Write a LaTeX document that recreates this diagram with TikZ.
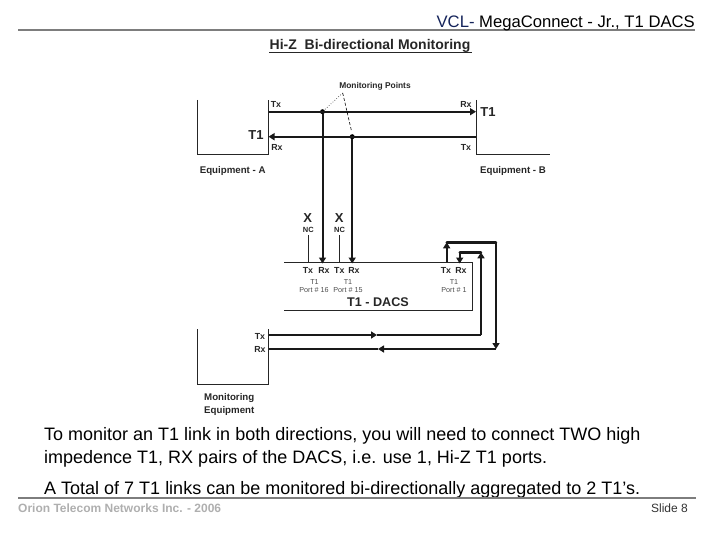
\documentclass[tikz,border=0pt]{standalone}
\usepackage{fontspec}
\setmainfont{Liberation Sans}
\usetikzlibrary{arrows.meta}
\definecolor{hdrblue}{RGB}{20,35,90}
\definecolor{foot}{RGB}{175,175,175}
\definecolor{rule}{RGB}{125,125,125}
\tikzset{
  x=1pt,y=-1pt,
  wire/.style={line width=2pt,black!90},
  wireh/.style={line width=2.4pt,black!90},
  tip/.style={-{Triangle[length=6pt,width=7pt]}},
  thin box/.style={line width=1pt,black!85},
  lab/.style={inner sep=0pt,font=\fontsize{8.8}{10}\selectfont\bfseries,text=black!85},
  labl/.style={inner sep=0pt,font=\fontsize{9.7}{11}\selectfont\bfseries,text=black!85},
  tiny lab/.style={inner sep=0pt,font=\fontsize{7.2}{8}\selectfont,text=black!70},
  big lab/.style={inner sep=0pt,font=\fontsize{13}{15}\selectfont\bfseries,text=black!85},
  body/.style={inner sep=0pt,anchor=base west,font=\fontsize{18}{20}\selectfont},
  dot/.style={circle,fill=black,inner sep=0pt,minimum size=5pt},
}
\begin{document}
\begin{tikzpicture}
\useasboundingbox (0,0) rectangle (720,540);
% header
\draw[rule,line width=2pt] (18,30) coordinate (hl) -- (695,30) coordinate (hr);
\node[inner sep=0pt,anchor=base east,font=\fontsize{16.65}{18}\selectfont] (hdr) at (695,28) {\textcolor{hdrblue}{VCL-} MegaConnect - Jr., T1 DACS};
\node[inner sep=0pt,font=\fontsize{14}{16}\selectfont\bfseries,text=black!85] (ttl) at (370,46) {Hi-Z\ \ Bi-directional Monitoring};
\coordinate (ttlL) at (269,52.5); \coordinate (ttlR) at (472,52.5);
\draw[line width=1pt,black!85] (ttlL) -- (ttlR);
% Equipment A
\coordinate (at) at (197.5,100); \coordinate (ab) at (197.5,155);
\coordinate (ac) at (268.5,155); \coordinate (ar) at (268.5,100);
\draw[thin box] (at) -- (ab) -- (ac) -- (ar);
% Equipment B
\coordinate (bt) at (476,100); \coordinate (bc) at (476,155); \coordinate (be) at (550,155);
\draw[thin box] (bt) -- (bc) -- (be);
% monitoring equipment
\coordinate (mt) at (197.5,329); \coordinate (mb) at (197.5,384);
\coordinate (mc) at (268.5,384); \coordinate (mr) at (268.5,329);
\draw[thin box] (mt) -- (mb) -- (mc) -- (mr);
% DACS
\coordinate (dtl) at (284,262.3); \coordinate (dtr) at (472,262.3);
\coordinate (dbr) at (472,310.3); \coordinate (dbl) at (284,310.3);
\draw[thin box] (dtl) -- (dtr) -- (dbr) -- (dbl);
% T1 links
\coordinate (atx) at (268.5,111.7); \coordinate (brx) at (476,111.7);
\coordinate (arx) at (268.5,136.7); \coordinate (btx) at (476,136.7);
\node[dot] (p1) at (322.5,111.7) {};
\node[dot] (p2) at (352.2,136.7) {};
\draw[wire,tip] (atx) -- (brx);
\draw[wire,tip] (btx) -- (arx);
% monitoring drops
\coordinate (r16) at (322.5,263.5); \coordinate (r15) at (352.2,263.5);
\draw[wire,tip] (p1) -- (r16);
\draw[wire,tip] (p2) -- (r15);
% NC stubs
\coordinate (nc1a) at (308.3,235); \coordinate (nc1b) at (308.3,262.3);
\coordinate (nc2a) at (339.3,235); \coordinate (nc2b) at (339.3,262.3);
\draw[line width=0.8pt,black!85] (nc1a) -- (nc1b);
\draw[line width=0.8pt,black!85] (nc2a) -- (nc2b);
% monitoring point callouts
\coordinate (apex) at (342.7,93);
\coordinate (p2top) at (351.5,131);
\draw[line width=0.6pt,dotted] (apex) -- (p1);
\draw[line width=0.6pt,dash pattern=on 3pt off 2pt] (apex) -- (p2top);
% port 1 loops
\coordinate (t1) at (446.7,262.3); \coordinate (t1u) at (446.7,242.3);
\coordinate (t1r) at (496,242.3); \coordinate (t1d) at (496,349);
\coordinate (r1) at (459.7,263.5); \coordinate (r1u) at (459.7,252.3);
\coordinate (r1r) at (481,252.3); \coordinate (r1d) at (481,335);
\coordinate (mtx) at (268.5,335); \coordinate (mrx) at (268.5,349);
\coordinate (mtxm) at (377,335); \coordinate (mrxm) at (378,349);
\draw[wire,tip] (t1) -- (t1u);
\draw[wireh,line cap=round] (t1u) -- (t1r);
\draw[wire,tip] (t1r) -- (t1d);
\draw[wireh,tip] (t1d) -- (mrxm);
\draw[wire] (mrxm) -- (mrx);
\draw[wire,tip] (r1u) -- (r1);
\draw[wireh,line cap=round] (r1u) -- (r1r);
\draw[wire,tip] (r1d) -- (r1r);
\draw[wire] (r1d) -- (mtxm);
\draw[wire,tip] (mtx) -- (mtxm);
% labels top
\node[lab,font=\fontsize{8.4}{10}\selectfont\bfseries] (mp) at (375,86) {Monitoring Points};
\node[lab] (ltx) at (276,104) {Tx};
\node[lab] (lrx) at (277,147) {Rx};
\node[lab] (rrx) at (466,104) {Rx};
\node[lab] (rtx) at (466,147) {Tx};
\node[big lab] (t1r lab) at (488,112) {T1};
\node[big lab] (t1l lab) at (256,135) {T1};
\node[labl] (eqa) at (232.7,171) {Equipment - A};
\node[labl] (eqb) at (513,171) {Equipment - B};
% X NC
\node[big lab] (x1) at (307.7,218) {X};
\node[big lab] (x2) at (339.3,218) {X};
\node[lab,font=\fontsize{7.5}{9}\selectfont\bfseries] (n1) at (308.3,230) {NC};
\node[lab,font=\fontsize{7.5}{9}\selectfont\bfseries] (n2) at (339.6,230) {NC};
% port labels
\node[lab] (a1) at (308,270) {Tx};
\node[lab] (a2) at (324,270) {Rx};
\node[lab] (a3) at (339.3,270) {Tx};
\node[lab] (a4) at (354,270) {Rx};
\node[lab] (a5) at (446,270) {Tx};
\node[lab] (a6) at (461,270) {Rx};
\node[tiny lab] (b1) at (314.5,282) {T1};
\node[tiny lab] (b2) at (348,282) {T1};
\node[tiny lab] (b3) at (454,282) {T1};
\node[tiny lab] (c1) at (314,290.5) {Port \# 16};
\node[tiny lab] (c2) at (348,290.5) {Port \# 15};
\node[tiny lab] (c3) at (454,290.5) {Port \# 1};
\node[inner sep=0pt,font=\fontsize{12.6}{14}\selectfont\bfseries,text=black!85] (dacs) at (378,302.5) {T1 - DACS};
% monitoring labels
\node[lab] (mtl) at (260,336) {Tx};
\node[lab] (mrl) at (260,349) {Rx};
\node[labl,anchor=west] (m1) at (204,398) {Monitoring};
\node[labl,anchor=west] (m2) at (204,411) {Equipment};
% body
\node[body] (l1) at (44,440) {To monitor an T1 link in both directions, you will need to connect TWO high};
\node[body] (l2) at (44,463) {impedence T1, RX pairs of the DACS, i.e. use 1, Hi-Z T1 ports.};
\node[body] (l3) at (44,494) {A Total of 7 T1 links can be monitored bi-directionally aggregated to 2 T1’s.};
% footer
\draw[rule,line width=2pt] (18,497.5) coordinate (fl) -- (696,497.5) coordinate (fr);
\node[inner sep=0pt,anchor=base west,font=\fontsize{12}{14}\selectfont\bfseries,text=foot] (f1) at (18,512) {Orion Telecom Networks Inc. - 2006};
\node[inner sep=0pt,anchor=base east,font=\fontsize{12}{14}\selectfont,text=black!80] (f2) at (688,512) {Slide 8};
\end{tikzpicture}
\end{document}
